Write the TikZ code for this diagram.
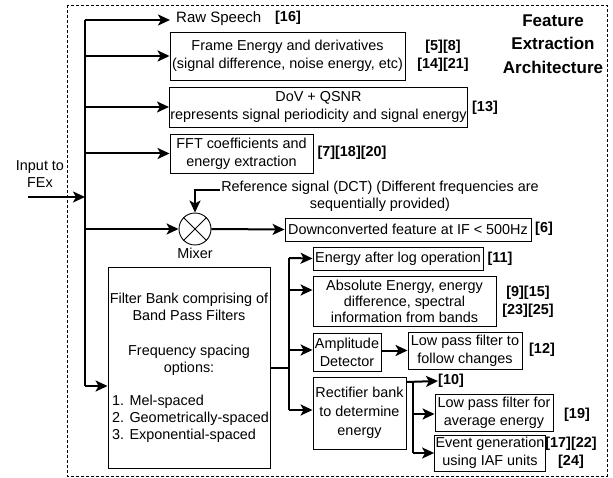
\documentclass[tikz,border=0pt]{standalone}
\usepackage{fontspec}
\setmainfont{Liberation Sans}
\usetikzlibrary{arrows.meta}
\begin{document}
\begin{tikzpicture}[x=1pt,y=-1pt,
 box/.style={draw, line width=0.9pt, inner sep=1pt, align=center, font=\fontsize{14.4}{18}\selectfont},
 conn/.style={line width=2pt},
 arr/.style={conn, -{Stealth[length=12pt,width=11pt,inset=3pt]}},
 lbl/.style={font=\fontsize{14.4}{18.5}\selectfont\bfseries, align=center, inner sep=0pt},
 txt/.style={font=\fontsize{14.4}{17}\selectfont, align=center, inner sep=0pt}]
\useasboundingbox (0,0) rectangle (613,478);
% frame
\draw[dashed, line width=0.9pt, dash pattern=on 3pt off 2pt] (67,5) rectangle (607,476);
\node[font=\fontsize{17}{23.5}\selectfont\bfseries, align=center, inner sep=0pt] (title) at (553,44) {Feature\\Extraction\\Architecture};
% input
\node[txt] (in) at (40,174) {Input to\\FEx};
\coordinate (inS) at (28,197);
\coordinate (inE) at (85,197);
\draw[arr] (inS) -- (inE);
% bus
\coordinate (busT) at (85,20);
\coordinate (busB) at (85,386);
\draw[conn] (busT) -- (busB);
% raw speech
\node[txt, anchor=west, font=\fontsize{15}{17}\selectfont] (raw) at (176,19) {Raw Speech};
\node[lbl] (l16) at (288,18) {[16]};
\draw[arr] (busT) -- (170,20);
% frame energy
\node[box, minimum width=235pt, minimum height=48pt] (fe) at (287.5,56) {Frame Energy and derivatives\\(signal difference, noise energy, etc)};
\node[lbl] (l5) at (443,56) {[5][8]\\ {[14][21]}};
\coordinate (b2) at (85,56);
\draw[arr] (b2) -- (fe.west);
% DoV
\node[box, minimum width=297pt, minimum height=40pt] (dov) at (318.5,107) {DoV + QSNR\\represents signal periodicity and signal energy};
\node[lbl] (l13) at (485,108) {[13]};
\coordinate (b3) at (85,107);
\draw[arr] (b3) -- (dov.west);
% FFT
\node[box, minimum width=143pt, minimum height=39pt] (fft) at (241.5,153.5) {FFT coefficients and\\energy extraction};
\node[lbl] (l7) at (352,153) {[7][18][20]};
\coordinate (b4) at (85,153.5);
\draw[arr] (b4) -- (fft.west);
% mixer
\node[draw, circle, line width=0.9pt, minimum size=32pt, inner sep=0pt] (mix) at (195,229) {};
\draw[line width=0.9pt] (mix.north west) -- (mix.south east) (mix.north east) -- (mix.south west);
\node[txt] (mixl) at (195,253) {Mixer};
\coordinate (b5) at (85,229);
\draw[arr] (b5) -- (mix.west);
\node[txt] (ref) at (380,196) {Reference signal (DCT) (Different frequencies are\\sequentially provided)};
\coordinate (refS) at (220,190);
\draw[arr] (refS) -| (mix.north);
\node[box, minimum width=246pt, minimum height=23pt] (down) at (408,229.5) {Downconverted feature at IF < 500Hz};
\node[lbl] (l6) at (544,229) {[6]};
\draw[arr] (mix.east) -- (down.west);
% filter bank
\node[box, minimum width=162pt, minimum height=201pt] (fb) at (189,367.5) {};
\node[txt] (fbt) at (189,334) {Filter Bank comprising of\\Band Pass Filters\\[18pt]Frequency spacing\\options:};
\node[txt, anchor=west, align=left] (fbl) at (112,419) {1. Mel-spaced\\2. Geometrically-spaced\\3. Exponential-spaced};
\draw[arr] (busB) -- (busB -| fb.west);
% filter bank outputs
\coordinate (fo) at (289,368);
\coordinate (f1) at (289,258);
\coordinate (f2) at (289,290);
\coordinate (f3) at (289,350);
\coordinate (f4) at (289,410);
\draw[conn] (fo -| fb.east) -- (fo);
\draw[conn] (f1) -- (f4);
\node[box, minimum width=170pt, minimum height=23pt] (log) at (398,258.5) {Energy after log operation};
\node[lbl] (l11) at (500,259) {[11]};
\draw[arr] (f1) -- (log.west);
\node[box, minimum width=183pt, minimum height=50pt, font=\fontsize{14.4}{16}\selectfont] (abs) at (404.5,301) {Absolute Energy, energy\\difference, spectral\\information from bands};
\node[lbl] (l9) at (528,302) {[9][15]\\ {[23][25]}};
\draw[arr] (f2) -- (f2 -| abs.west);
\node[box, minimum width=68pt, minimum height=38pt] (amp) at (347,352) {Amplitude\\Detector};
\draw[arr] (f3) -- (f3 -| amp.west);
\node[box, minimum width=114pt, minimum height=37pt] (lpa) at (465,350.5) {Low pass filter to\\follow changes};
\node[lbl] (l12) at (542,350) {[12]};
\draw[arr] (amp.east |- 0,350.5) -- (lpa.west);
\node[box, minimum width=93pt, minimum height=72pt, font=\fontsize{14.4}{19}\selectfont] (rect) at (359.5,413) {Rectifier bank\\to determine\\energy};
\draw[arr] (f4) -- (f4 -| rect.west);
% rectifier outputs
\coordinate (r0) at (413,382);
\coordinate (r1) at (413,414);
\coordinate (r2) at (413,453);
\node[lbl, anchor=west] (l10) at (438,381) {[10]};
\draw[arr] (r0 -| rect.east) -- (l10.west);
\draw[conn] (r0) -- (r2);
\node[box, minimum width=118pt, minimum height=37pt] (lpb) at (494,412.5) {Low pass filter for\\average energy};
\node[lbl] (l19) at (577,415) {[19]};
\draw[arr] (r1) -- (r1 -| lpb.west);
\node[box, minimum width=110pt, minimum height=36pt] (ev) at (490,453) {Event generation\\using IAF units};
\node[lbl] (l17) at (571,453) {[17][22]\\ {[24]}};
\draw[arr] (r2) -- (ev.west);
\end{tikzpicture}
\end{document}
